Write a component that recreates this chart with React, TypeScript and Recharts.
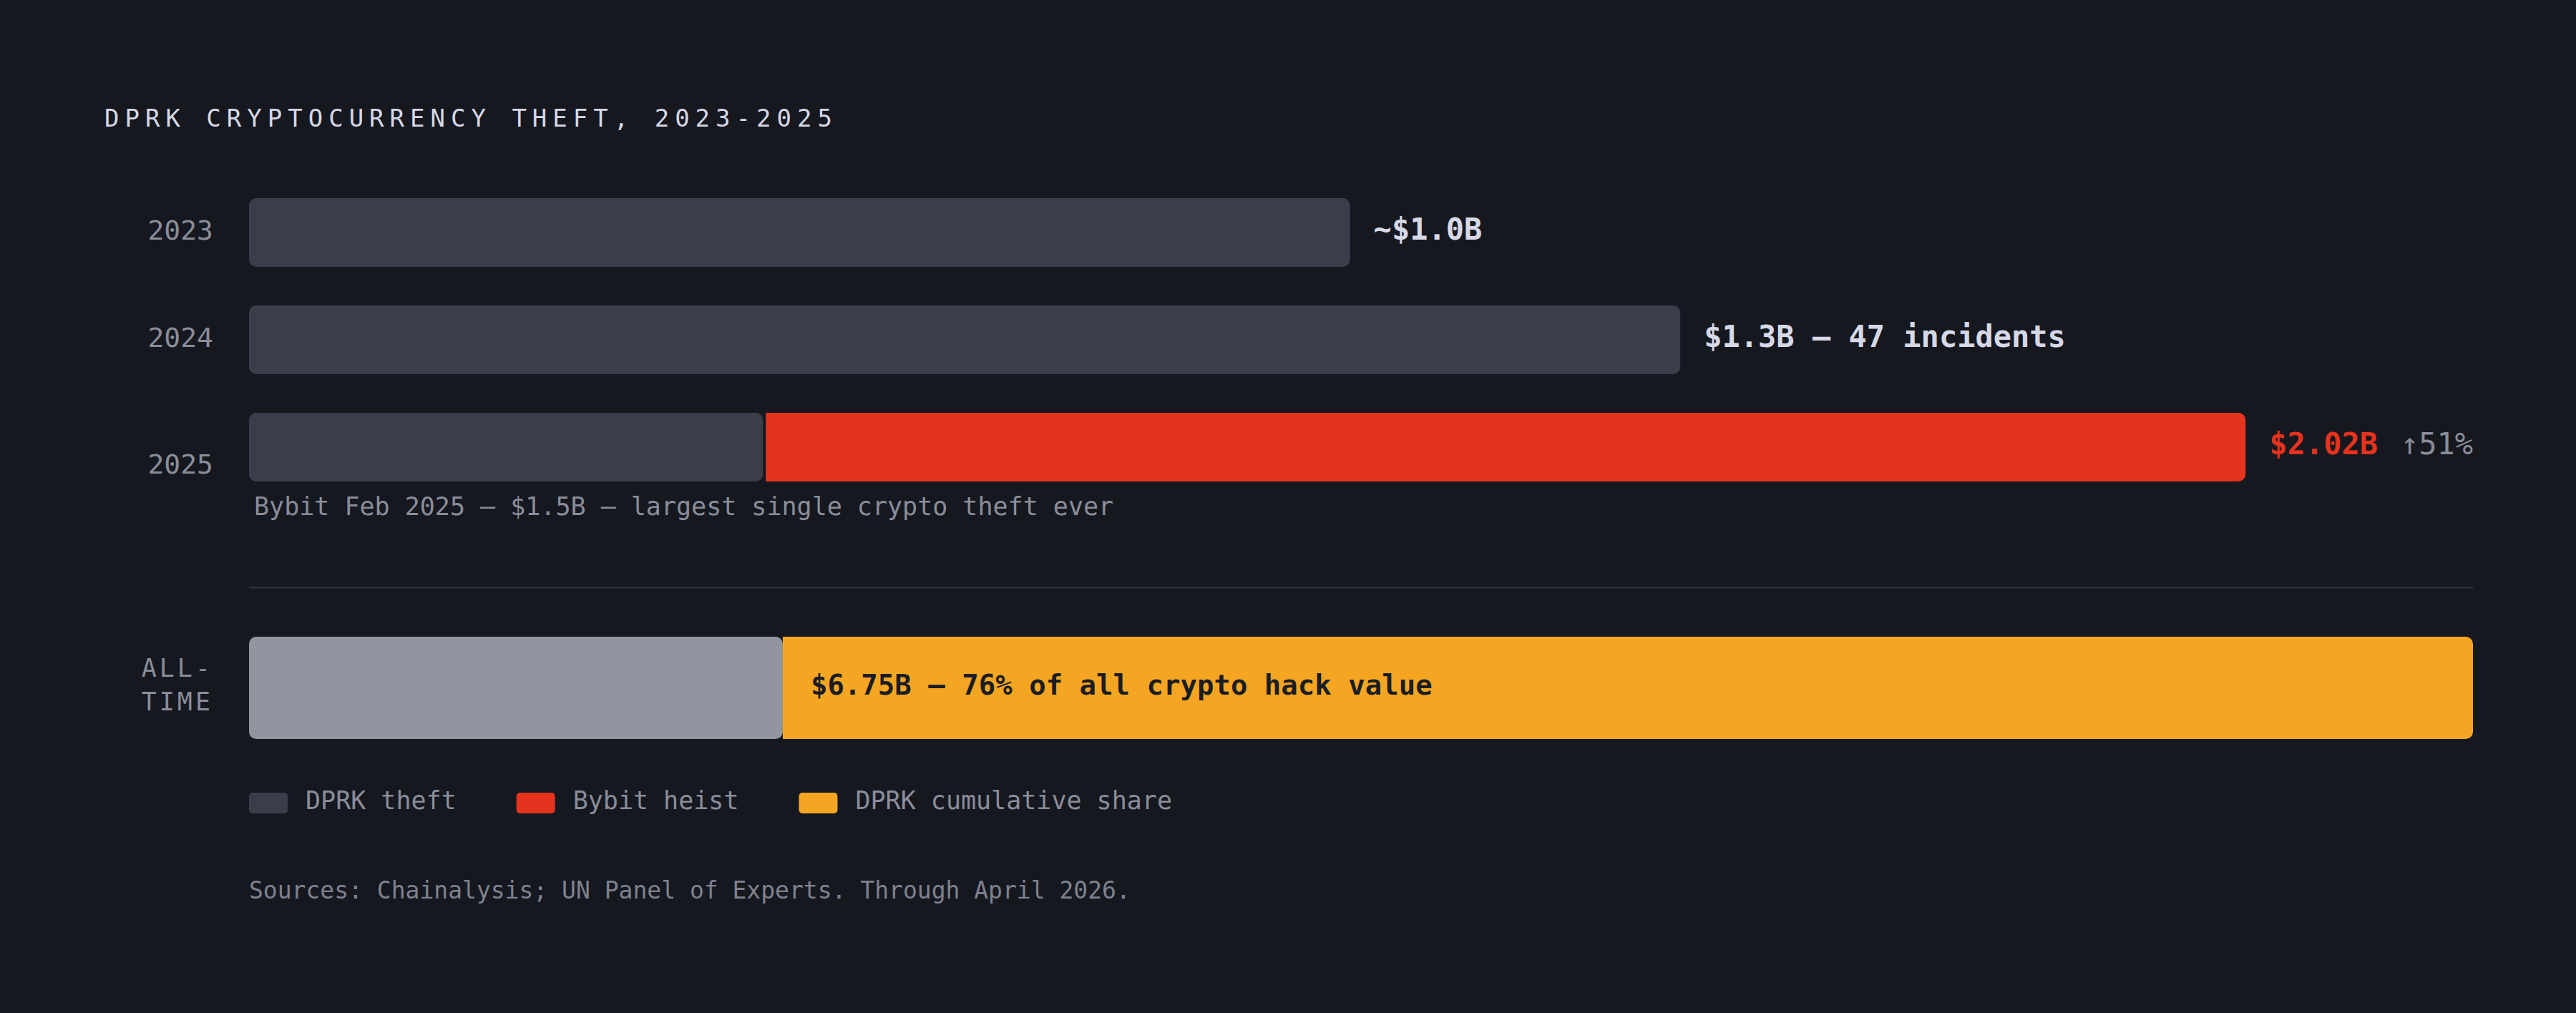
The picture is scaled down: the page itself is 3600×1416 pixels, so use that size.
import React from "react";
import { BarChart, Bar, XAxis, YAxis, LabelList, Rectangle } from "recharts";

// ---------- data ----------
const TITLE = "DPRK CRYPTOCURRENCY THEFT, 2023-2025";
const years = ["2023", "2024", "2025"];
const priorTheft: (number | null)[] = [1.0, 1.3, null]; // $B
const theft2025NonBybit: (number | null)[] = [null, null, 0.52]; // $B
const bybitHeist: (number | null)[] = [null, null, 1.5]; // $B
const valueLabels = ["~$1.0B", "$1.3B — 47 incidents", "$2.02B"];
const changeLabels = ["", "", "↑51%"];
const captions = ["", "", "Bybit Feb 2025 — $1.5B — largest single crypto theft ever"];
const priorDomain: [number, number] = [0, 2.02];
const domain2025: [number, number] = [0, 2.25];

const allTimeCategory = ["ALL-TIME"];
const allTimeOtherShare = [24]; // %
const allTimeDprkShare = [76]; // %
const allTimeLabels = ["$6.75B — 76% of all crypto hack value"];

const legendLabels = ["DPRK theft", "Bybit heist", "DPRK cumulative share"];
const SOURCES = "Sources: Chainalysis; UN Panel of Experts. Through April 2026.";

// ---------- style ----------
const FONT = "'DejaVu Sans Mono', 'Liberation Mono', monospace";
const BG = "#161820";
const C_DARK = "#3b3d4a";
const C_RED = "#e5331e";
const C_ORANGE = "#f4a623";
const C_GRAY = "#9195a0";
const C_TEXT = "#d6d8e6";
const C_MUTED = "#8a8d99";
const legendColors = [C_DARK, C_RED, C_ORANGE];

const W = 3600;
const H = 1416;
const PLOT_LEFT = 348;
const PLOT_RIGHT = 3456;

const rows = years.map((y, i) => ({
  year: y,
  prior: priorTheft[i],
  other25: theft2025NonBybit[i],
  bybit: bybitHeist[i],
  priorLabel: priorTheft[i] != null ? valueLabels[i] : null,
  bybitLabel: bybitHeist[i] != null ? `${valueLabels[i]}|${changeLabels[i]}` : null,
  caption: captions[i] || null,
}));

const allTimeRows = allTimeCategory.map((c, i) => ({
  name: c,
  other: allTimeOtherShare[i],
  dprk: allTimeDprkShare[i],
  label: allTimeLabels[i],
}));

function box(p: any) {
  const vb = p.viewBox || {};
  return {
    x: p.x ?? vb.x,
    y: p.y ?? vb.y,
    width: p.width ?? vb.width,
    height: p.height ?? vb.height,
  };
}

const PriorLabel = (p: any) => {
  if (p.value == null || p.value === "") return null;
  const b = box(p);
  return (
    <text x={b.x + b.width + 33} y={b.y + b.height / 2 + 10} fill={C_TEXT} fontFamily={FONT} fontWeight={700} fontSize={42}>
      {p.value}
    </text>
  );
};

const BybitLabel = (p: any) => {
  if (p.value == null || p.value === "") return null;
  const b = box(p);
  const [main, change] = String(p.value).split("|");
  return (
    <text x={b.x + b.width + 33} y={b.y + b.height / 2 + 10} fontFamily={FONT} fontSize={42}>
      <tspan fill={C_RED} fontWeight={700}>{main}</tspan>
      {change ? <tspan fill={C_MUTED} fontWeight={400} dx={32}>{change}</tspan> : null}
    </text>
  );
};

const CaptionLabel = (p: any) => {
  if (p.value == null || p.value === "") return null;
  const b = box(p);
  return (
    <text x={b.x + 7} y={b.y + b.height + 47} fill={C_MUTED} fontFamily={FONT} fontSize={35}>
      {p.value}
    </text>
  );
};

const AllTimeLabel = (p: any) => {
  if (p.value == null) return null;
  const b = box(p);
  return (
    <text x={b.x + 39} y={b.y + b.height / 2 + 9} fill="#1b1d24" fontFamily={FONT} fontWeight={700} fontSize={39}>
      {p.value}
    </text>
  );
};

const YearTick = (p: any) => {
  const v = p.payload?.value;
  const i = years.indexOf(v);
  const shift = i >= 0 && captions[i] ? 27 : 0;
  return (
    <text x={p.x} y={p.y + 10 + shift} textAnchor="end" fill={C_MUTED} fontFamily={FONT} fontSize={38}>
      {v}
    </text>
  );
};

const AllTimeTick = (p: any) => {
  const v: string = p.payload?.value ?? "";
  const cut = v.indexOf("-");
  const lines = cut >= 0 ? [v.slice(0, cut + 1), v.slice(cut + 1)] : [v];
  return (
    <text x={p.x} textAnchor="end" fill={C_MUTED} fontFamily={FONT} fontSize={35} letterSpacing={4}>
      {lines.map((l, k) => (
        <tspan key={k} x={p.x + 4} y={p.y - 15 + k * 47}>
          {l}
        </tspan>
      ))}
    </text>
  );
};

const RedShape = (p: any) => (
  <Rectangle x={p.x + 4} y={p.y} width={Math.max(0, p.width - 4)} height={p.height} fill={C_RED} radius={[0, 10, 10, 0]} />
);

export default function App() {
  return (
    <div style={{ position: "relative", width: W, height: H, background: BG, overflow: "hidden" }}>
      <style>{`body{margin:0;background:${BG};}`}</style>

      <svg width={W} height={H} style={{ position: "absolute", left: 0, top: 0 }}>
        <text x={146} y={177} fill={C_TEXT} fontFamily={FONT} fontSize={34} letterSpacing={8}>
          {TITLE}
        </text>
        <rect x={PLOT_LEFT} y={820} width={PLOT_RIGHT - PLOT_LEFT} height={2.5} fill="#2d303b" />
        {(() => {
          let x = PLOT_LEFT;
          return legendLabels.map((l, i) => {
            const sx = x;
            x = sx + 54 + 25 + l.length * 21.07 + 84;
            return (
              <g key={l}>
                <rect x={sx} y={1108} width={54} height={29} rx={5} fill={legendColors[i]} />
                <text x={sx + 79} y={1131} fill={C_MUTED} fontFamily={FONT} fontSize={35}>
                  {l}
                </text>
              </g>
            );
          });
        })()}
        <text x={PLOT_LEFT} y={1256} fill="#7f828e" fontFamily={FONT} fontSize={33}>
          {SOURCES}
        </text>
      </svg>

      <div style={{ position: "absolute", left: 0, top: 0 }}>
        <BarChart
          layout="vertical"
          width={W}
          height={760}
          data={rows}
          margin={{ top: 250, right: W - PLOT_RIGHT, bottom: 60, left: 0 }}
        >
          <XAxis xAxisId="a" type="number" domain={priorDomain} hide />
          <XAxis xAxisId="b" type="number" domain={domain2025} hide />
          <YAxis
            yAxisId="y1"
            type="category"
            dataKey="year"
            width={PLOT_LEFT}
            axisLine={false}
            tickLine={false}
            tickSize={0}
            tickMargin={50}
            tick={(p: any) => <YearTick {...p} />}
            interval={0}
          />
          <YAxis yAxisId="y2" type="category" dataKey="year" hide />
          <Bar dataKey="prior" xAxisId="a" yAxisId="y1" fill={C_DARK} radius={10} barSize={96} isAnimationActive={false}>
            <LabelList dataKey="priorLabel" content={(p: any) => <PriorLabel {...p} />} />
          </Bar>
          <Bar dataKey="other25" xAxisId="b" yAxisId="y2" stackId="y25" fill={C_DARK} radius={10} barSize={96} isAnimationActive={false}>
            <LabelList dataKey="caption" content={(p: any) => <CaptionLabel {...p} />} />
          </Bar>
          <Bar
            dataKey="bybit"
            xAxisId="b"
            yAxisId="y2"
            stackId="y25"
            fill={C_RED}
            barSize={96}
            shape={(p: any) => <RedShape {...p} />}
            isAnimationActive={false}
          >
            <LabelList dataKey="bybitLabel" content={(p: any) => <BybitLabel {...p} />} />
          </Bar>
        </BarChart>
      </div>

      <div style={{ position: "absolute", left: 0, top: 861 }}>
        <BarChart
          layout="vertical"
          width={W}
          height={200}
          data={allTimeRows}
          margin={{ top: 0, right: W - PLOT_RIGHT, bottom: 0, left: 0 }}
        >
          <XAxis type="number" domain={[0, 100]} hide />
          <YAxis
            type="category"
            dataKey="name"
            width={PLOT_LEFT}
            axisLine={false}
            tickLine={false}
            tickSize={0}
            tickMargin={54}
            tick={(p: any) => <AllTimeTick {...p} />}
          />
          <Bar dataKey="other" stackId="t" fill={C_GRAY} radius={10} barSize={143} isAnimationActive={false} />
          <Bar dataKey="dprk" stackId="t" fill={C_ORANGE} radius={[0, 10, 10, 0]} barSize={143} isAnimationActive={false}>
            <LabelList dataKey="label" content={(p: any) => <AllTimeLabel {...p} />} />
          </Bar>
        </BarChart>
      </div>
    </div>
  );
}
